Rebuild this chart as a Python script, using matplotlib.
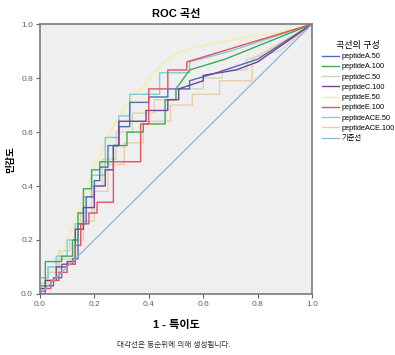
import matplotlib
matplotlib.use('Agg')
import matplotlib.pyplot as plt

plt.rcParams['font.family'] = ['Liberation Sans', 'Noto Sans CJK KR', 'DejaVu Sans']

# 곡선 이름과 색
names = ['peptideA.50', 'peptideA.100', 'peptideC.50', 'peptideC.100',
         'peptideE.50', 'peptideE.100', 'peptideACE.50', 'peptideACE.100']
colors = ['#4a6fb5', '#3daa55', '#d6d6b4', '#7a3e9d',
          '#f2efa0', '#e8505b', '#7ccfd8', '#e6cfa8']

# ROC 꼭짓점 (1 - 특이도, 민감도)
fpr_a50 = [0, 0.02, 0.02, 0.05, 0.05, 0.08, 0.08, 0.12, 0.12, 0.14, 0.14, 0.17, 0.17, 0.2, 0.2,
           0.22, 0.22, 0.25, 0.25, 0.29, 0.29, 0.33, 0.33, 0.4, 0.4, 0.47, 0.47, 0.55, 0.55, 0.65, 0.8, 1]
tpr_a50 = [0.01, 0.01, 0.03, 0.03, 0.06, 0.06, 0.11, 0.11, 0.13, 0.13, 0.26, 0.26, 0.36, 0.36, 0.42,
           0.42, 0.47, 0.47, 0.55, 0.55, 0.62, 0.62, 0.71, 0.71, 0.73, 0.73, 0.76, 0.76, 0.79, 0.82, 0.87, 1]

fpr_a100 = [0, 0.02, 0.02, 0.08, 0.08, 0.12, 0.12, 0.14, 0.14, 0.16, 0.16, 0.19, 0.19, 0.22, 0.22,
            0.27, 0.27, 0.32, 0.32, 0.38, 0.38, 0.46, 0.46, 0.5, 0.5, 0.55, 0.68, 1]
tpr_a100 = [0.03, 0.03, 0.12, 0.12, 0.14, 0.14, 0.2, 0.2, 0.3, 0.3, 0.39, 0.39, 0.46, 0.46, 0.49,
            0.49, 0.55, 0.55, 0.6, 0.6, 0.63, 0.63, 0.72, 0.72, 0.76, 0.83, 0.87, 1]

fpr_c50 = [0, 0.03, 0.03, 0.07, 0.07, 0.11, 0.11, 0.15, 0.15, 0.19, 0.19, 0.23, 0.23, 0.28, 0.28,
           0.34, 0.34, 0.42, 0.42, 0.5, 0.5, 0.6, 0.6, 0.67, 0.67, 0.76, 0.76, 0.88, 1]
tpr_c50 = [0.06, 0.06, 0.1, 0.1, 0.16, 0.16, 0.2, 0.2, 0.3, 0.3, 0.4, 0.4, 0.5, 0.5, 0.6,
           0.6, 0.67, 0.67, 0.72, 0.72, 0.76, 0.76, 0.8, 0.8, 0.83, 0.83, 0.87, 0.9, 1]

fpr_c100 = [0, 0.02, 0.02, 0.06, 0.06, 0.1, 0.1, 0.13, 0.13, 0.16, 0.16, 0.2, 0.2, 0.24, 0.24,
            0.27, 0.27, 0.29, 0.29, 0.39, 0.39, 0.47, 0.47, 0.51, 0.51, 0.6, 0.6, 0.72, 0.8, 1]
tpr_c100 = [0.02, 0.02, 0.05, 0.05, 0.1, 0.1, 0.12, 0.12, 0.24, 0.24, 0.32, 0.32, 0.4, 0.4, 0.46,
            0.46, 0.55, 0.55, 0.64, 0.64, 0.68, 0.68, 0.72, 0.72, 0.76, 0.79, 0.81, 0.83, 0.86, 1]

fpr_e50 = [0, 0.04, 0.08, 0.12, 0.16, 0.2, 0.24, 0.28, 0.33, 0.38, 0.42, 0.46, 0.5, 0.56, 0.64, 0.75, 0.88, 1]
tpr_e50 = [0.02, 0.08, 0.15, 0.25, 0.36, 0.47, 0.56, 0.64, 0.72, 0.77, 0.82, 0.86, 0.89, 0.91, 0.93, 0.95, 0.97, 1]

fpr_e100 = [0, 0.02, 0.02, 0.04, 0.04, 0.07, 0.07, 0.1, 0.1, 0.13, 0.13, 0.15, 0.15, 0.18, 0.18,
            0.21, 0.21, 0.27, 0.27, 0.37, 0.37, 0.4, 0.4, 0.47, 0.47, 0.54, 0.54, 1]
tpr_e100 = [0, 0, 0.02, 0.02, 0.05, 0.05, 0.08, 0.08, 0.11, 0.11, 0.18, 0.18, 0.26, 0.26, 0.3,
            0.3, 0.34, 0.34, 0.49, 0.49, 0.63, 0.63, 0.76, 0.76, 0.83, 0.83, 0.86, 1]

fpr_ace50 = [0, 0.03, 0.03, 0.06, 0.06, 0.1, 0.1, 0.13, 0.13, 0.16, 0.16, 0.19, 0.19, 0.24, 0.24,
             0.29, 0.29, 0.33, 0.33, 0.44, 0.44, 0.55, 0.55, 0.7, 1]
tpr_ace50 = [0.06, 0.06, 0.1, 0.1, 0.14, 0.14, 0.2, 0.2, 0.26, 0.26, 0.36, 0.36, 0.44, 0.44, 0.58,
             0.58, 0.66, 0.66, 0.74, 0.74, 0.82, 0.82, 0.86, 0.9, 1]

fpr_ace100 = [0, 0.03, 0.03, 0.07, 0.07, 0.12, 0.12, 0.16, 0.16, 0.2, 0.2, 0.25, 0.25, 0.31, 0.31,
              0.38, 0.38, 0.48, 0.48, 0.56, 0.56, 0.66, 0.66, 0.78, 0.78, 1]
tpr_ace100 = [0.04, 0.04, 0.08, 0.08, 0.13, 0.13, 0.2, 0.2, 0.27, 0.27, 0.38, 0.38, 0.48, 0.48, 0.56,
              0.56, 0.64, 0.64, 0.7, 0.7, 0.74, 0.74, 0.79, 0.79, 0.87, 1]

fprs = [fpr_a50, fpr_a100, fpr_c50, fpr_c100, fpr_e50, fpr_e100, fpr_ace50, fpr_ace100]
tprs = [tpr_a50, tpr_a100, tpr_c50, tpr_c100, tpr_e50, tpr_e100, tpr_ace50, tpr_ace100]

fig = plt.figure(figsize=(3.95, 3.55), dpi=100)
ax = fig.add_axes([0.101, 0.172, 0.689, 0.76])
ax.set_facecolor('#efefef')

# 연한 곡선부터 그림
order = [2, 4, 7, 6, 0, 1, 3, 5]
lines = {}
for i in order:
    ln, = ax.plot(fprs[i], tprs[i], color=colors[i], lw=1.0, label=names[i])
    lines[i] = ln
ref, = ax.plot([0, 1], [0, 1], color='#8fb3d9', lw=0.9, label='기준선')

ax.set_xlim(0, 1)
ax.set_ylim(0, 1)
ticks = [0.0, 0.2, 0.4, 0.6, 0.8, 1.0]
ax.set_xticks(ticks)
ax.set_yticks(ticks)
ax.set_xticklabels(['0.0', '0.2', '0.4', '0.6', '0.8', '1.0'])
ax.set_yticklabels(['0.0', '0.2', '0.4', '0.6', '0.8', '1.0'])
ax.tick_params(labelsize=6, colors='#606060', length=3, width=0.8, pad=2)
for s in ax.spines.values():
    s.set_color('#7a7a7a')
    s.set_linewidth(1.2)

ax.set_title('ROC 곡선', fontsize=8, fontweight='bold', pad=5)
ax.set_xlabel('1 - 특이도', fontsize=8, fontweight='bold')
ax.xaxis.set_label_coords(0.5, -0.095)
ax.set_ylabel('민감도', fontsize=7, fontweight='bold')
ax.yaxis.set_label_coords(-0.09, 0.5)

handles = [lines[i] for i in range(8)] + [ref]
labels = names + ['기준선']
leg = fig.legend(handles, labels, loc='upper left', bbox_to_anchor=(0.805, 0.895),
                 frameon=False, fontsize=5.3, title='곡선의 구성', title_fontsize=6.5,
                 handlelength=2.4, handletextpad=0.3, labelspacing=0.42, borderpad=0)
leg._legend_box.align = 'center'

fig.text(0.44, 0.022, '대각선은 동순위에 의해 생성됩니다.', fontsize=5.5, color='#303030', ha='center')

fig.savefig('out.png', dpi=100)
